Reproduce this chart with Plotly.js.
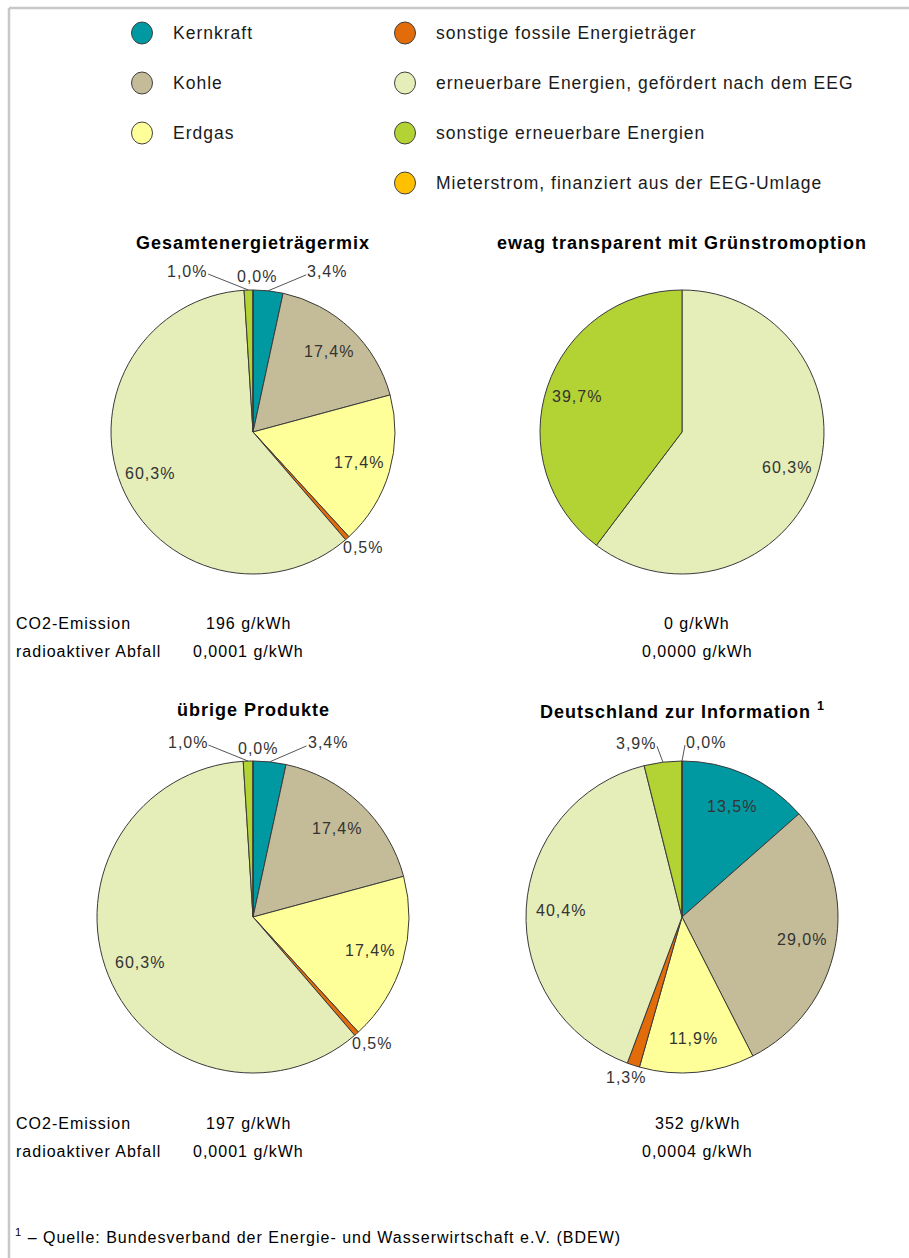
<!DOCTYPE html>
<html>
<head>
<meta charset="utf-8">
<script src="https://cdn.plot.ly/plotly-3.0.1.min.js"></script>
<style>
html, body { margin: 0; padding: 0; background: #ffffff; }
#chart { width: 909px; height: 1258px; }
svg text { letter-spacing: 1px; }
</style>
</head>
<body>
<div id="chart"></div>
<script>
// ---------------- DATA ----------------
const categories = [
  'Kernkraft',
  'Kohle',
  'Erdgas',
  'sonstige fossile Energieträger',
  'erneuerbare Energien, gefördert nach dem EEG',
  'sonstige erneuerbare Energien',
  'Mieterstrom, finanziert aus der EEG-Umlage'
];
const categoryColors = ['#0099A2', '#C4BC98', '#FFFF99', '#E36C0A', '#E5EDB9', '#B3D234', '#FFC000'];

const pieTitles = [
  'Gesamtenergieträgermix',
  'ewag transparent mit Grünstromoption',
  'übrige Produkte',
  'Deutschland zur Information\u00a0<sup>1</sup>'
];
// shares in % (null = not part of this mix)
const valuesGesamt      = [3.4, 17.4, 17.4, 0.5, 60.3, 1.0, 0.0];
const valuesGruenstrom  = [null, null, null, null, 60.3, 39.7, null];
const valuesUebrige     = [3.4, 17.4, 17.4, 0.5, 60.3, 1.0, 0.0];
const valuesDeutschland = [13.5, 29.0, 11.9, 1.3, 40.4, 3.9, 0.0];

const statRowLabels = ['CO2-Emission', 'radioaktiver Abfall'];
const co2Values   = ['196 g/kWh', '0 g/kWh', '197 g/kWh', '352 g/kWh'];
const wasteValues = ['0,0001 g/kWh', '0,0000 g/kWh', '0,0001 g/kWh', '0,0004 g/kWh'];
const footnote = '<sup>1</sup> – Quelle: Bundesverband der Energie- und Wasserwirtschaft e.V. (BDEW)';

// ---------------- LAYOUT HELPERS ----------------
const W = 909, H = 1258;
const X = p => p / W;
const Y = p => 1 - p / H;
const FONT = '"Liberation Sans", Arial, sans-serif';

const pieSeries = [valuesGesamt, valuesGruenstrom, valuesUebrige, valuesDeutschland];
const pieGeom = [
  { cx: 253, cy: 432, r: 142, titleY: 243, statsY: 623, valueX: 249 },
  { cx: 682, cy: 432, r: 142, titleY: 243, statsY: 623, valueX: 697 },
  { cx: 253, cy: 917, r: 156, titleY: 710, statsY: 1123, valueX: 249 },
  { cx: 682, cy: 917, r: 156, titleY: 710, statsY: 1123, valueX: 697 }
];

const traces = [];
const annotations = [];
const shapes = [];

const fmt = v => v.toFixed(1).replace('.', ',') + '%';
const LW = 40, LH = 18, GAP = 4, MINSEP = 70, LIFT = 6;

pieSeries.forEach((series, pi) => {
  const g = pieGeom[pi];
  const idx = [];
  series.forEach((v, i) => { if (v !== null) idx.push(i); });
  const vals = idx.map(i => series[i]);

  traces.push({
    type: 'pie',
    values: vals,
    labels: idx.map(i => categories[i]),
    marker: { colors: idx.map(i => categoryColors[i]), line: { color: '#3a3a3a', width: 1 } },
    sort: false,
    direction: 'clockwise',
    rotation: 0,
    textinfo: 'none',
    hoverinfo: 'label+percent',
    showlegend: false,
    domain: { x: [X(g.cx - g.r), X(g.cx + g.r)], y: [Y(g.cy + g.r), Y(g.cy - g.r)] }
  });

  // title
  annotations.push({
    xref: 'paper', yref: 'paper', x: X(g.cx), y: Y(g.titleY),
    text: '<b>' + pieTitles[pi] + '</b>', showarrow: false,
    xanchor: 'center', yanchor: 'middle',
    font: { family: FONT, size: 18, color: '#000000' }
  });

  // slice labels
  const total = vals.reduce((a, b) => a + b, 0);
  let cum = 0;
  const outs = [];
  vals.forEach(v => {
    const mid = (cum + v / 2) / total * 2 * Math.PI;
    cum += v;
    const dx = Math.sin(mid), dy = -Math.cos(mid);
    const txt = fmt(v);
    if (v >= 5) {
      annotations.push({
        xref: 'paper', yref: 'paper',
        x: X(g.cx + dx * g.r * 0.78), y: Y(g.cy + dy * g.r * 0.78),
        text: txt, showarrow: false, xanchor: 'center', yanchor: 'middle',
        font: { family: FONT, size: 16, color: '#333333' }
      });
    } else {
      const Px = g.cx + dx * g.r, Py = g.cy + dy * g.r;
      const x0 = Px + dx * (GAP + LW / 2), y0 = Py + dy * (GAP + LH / 2);
      outs.push({ txt, Px, Py, x0, x: x0, y: y0 });
    }
  });
  outs.sort((a, b) => a.x - b.x);
  for (let it = 0; it < 200; it++) {
    for (let j = 0; j < outs.length - 1; j++) {
      const a = outs[j], b = outs[j + 1];
      if (Math.abs(a.y - b.y) < LH) {
        const d = b.x - a.x;
        if (d < MINSEP) { const s = (MINSEP - d) / 2; a.x -= s; b.x += s; }
      }
    }
  }
  outs.forEach(o => {
    const moved = Math.abs(o.x - o.x0) > 12;
    const ly = moved ? o.y - LIFT : o.y;
    annotations.push({
      xref: 'paper', yref: 'paper', x: X(o.x), y: Y(ly),
      text: o.txt, showarrow: false, xanchor: 'center', yanchor: 'middle',
      font: { family: FONT, size: 16, color: '#333333' }
    });
    if (moved) {
      const ex = o.x + (o.Px > o.x ? 1 : -1) * (LW / 2 + 1);
      shapes.push({
        type: 'line', xref: 'paper', yref: 'paper',
        x0: X(ex), y0: Y(ly + 3), x1: X(o.Px), y1: Y(o.Py),
        line: { color: '#555555', width: 1 }
      });
    }
  });

  // emission values
  annotations.push({
    xref: 'paper', yref: 'paper', x: X(g.valueX), y: Y(g.statsY),
    text: co2Values[pi], showarrow: false, xanchor: 'center', yanchor: 'middle',
    font: { family: FONT, size: 16, color: '#000000' }
  });
  annotations.push({
    xref: 'paper', yref: 'paper', x: X(g.valueX), y: Y(g.statsY + 28),
    text: wasteValues[pi], showarrow: false, xanchor: 'center', yanchor: 'middle',
    font: { family: FONT, size: 16, color: '#000000' }
  });
  if (g.valueX < 400) {
    statRowLabels.forEach((lab, k) => {
      annotations.push({
        xref: 'paper', yref: 'paper', x: X(14), y: Y(g.statsY + 28 * k),
        text: lab, showarrow: false, xanchor: 'left', yanchor: 'middle',
        font: { family: FONT, size: 16, color: '#000000' }
      });
    });
  }
});

// legend (two columns)
categories.forEach((c, i) => {
  const col = i < 3 ? 0 : 1;
  const row = i < 3 ? i : i - 3;
  const cx = col === 0 ? 142 : 405;
  const cy = 33 + 50 * row;
  shapes.push({
    type: 'circle', xref: 'paper', yref: 'paper',
    x0: X(cx - 10.5), x1: X(cx + 10.5), y0: Y(cy + 11), y1: Y(cy - 11),
    fillcolor: categoryColors[i], line: { color: '#404040', width: 1 }
  });
  annotations.push({
    xref: 'paper', yref: 'paper', x: X(cx + 29), y: Y(cy),
    text: c, showarrow: false, xanchor: 'left', yanchor: 'middle',
    font: { family: FONT, size: 17.5, color: '#1a1a1a' }
  });
});

// footnote
annotations.push({
  xref: 'paper', yref: 'paper', x: X(13), y: Y(1236),
  text: footnote, showarrow: false, xanchor: 'left', yanchor: 'middle',
  font: { family: FONT, size: 16, color: '#000000' }
});

// frame lines
shapes.push({ type: 'line', xref: 'paper', yref: 'paper', x0: X(9), x1: X(W), y0: Y(8), y1: Y(8), line: { color: '#c8c8c8', width: 2.5 } });
shapes.push({ type: 'line', xref: 'paper', yref: 'paper', x0: X(9), x1: X(9), y0: Y(8), y1: Y(H), line: { color: '#c8c8c8', width: 2.5 } });

const layout = {
  width: W, height: H,
  margin: { l: 0, r: 0, t: 0, b: 0, pad: 0 },
  paper_bgcolor: '#ffffff',
  plot_bgcolor: '#ffffff',
  showlegend: false,
  font: { family: FONT },
  annotations, shapes
};

Plotly.newPlot('chart', traces, layout, { staticPlot: true, displayModeBar: false });
</script>
</body>
</html>
